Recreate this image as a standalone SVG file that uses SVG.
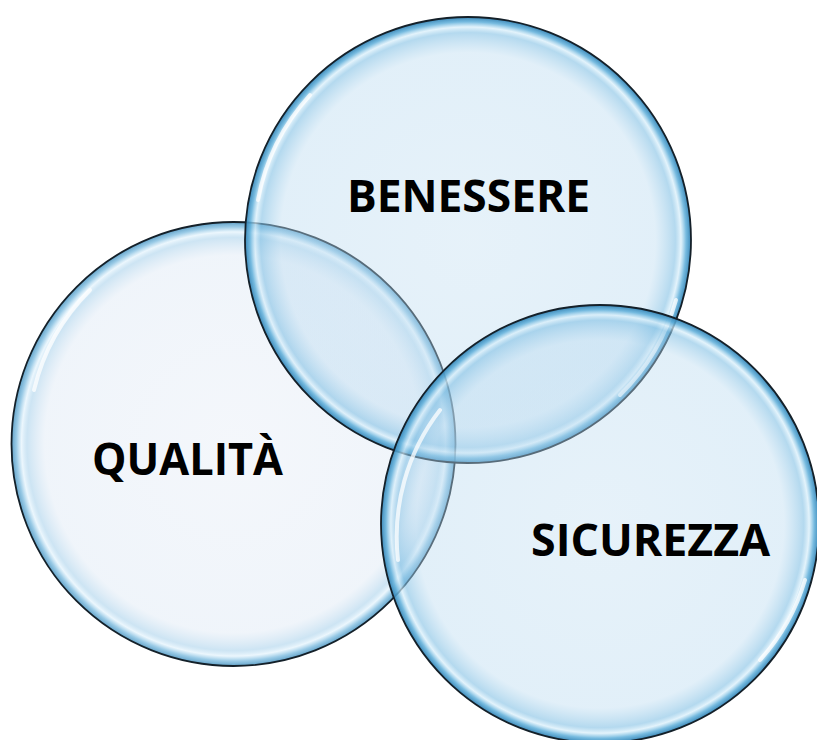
<svg xmlns="http://www.w3.org/2000/svg" width="817" height="740" viewBox="0 0 817 740">
  <style>
    .rim { stroke: #142029; stroke-width: 1.8; }
    .lbl { font-family: "Open Sans", "Liberation Sans", sans-serif; font-weight: 700; font-size: 44px; fill: #000; }
    .hl { fill: none; stroke: #ffffff; stroke-width: 4; stroke-linecap: round; opacity: 0.75; }
  </style>
  <defs>
    <radialGradient id="bubble" cx="0.5" cy="0.5" r="0.5">
      <stop offset="0" stop-color="rgb(190,220,240)" stop-opacity="0.38"/>
      <stop offset="0.84" stop-color="rgb(185,218,240)" stop-opacity="0.42"/>
      <stop offset="0.93" stop-color="rgb(130,192,228)" stop-opacity="0.6"/>
      <stop offset="0.955" stop-color="rgb(215,238,250)" stop-opacity="0.7"/>
      <stop offset="0.978" stop-color="rgb(95,175,218)" stop-opacity="0.85"/>
      <stop offset="1" stop-color="rgb(50,130,180)" stop-opacity="0.95"/>
    </radialGradient>
    <radialGradient id="bubbleLight" cx="0.5" cy="0.5" r="0.5">
      <stop offset="0" stop-color="rgb(205,218,238)" stop-opacity="0.22"/>
      <stop offset="0.85" stop-color="rgb(200,218,238)" stop-opacity="0.28"/>
      <stop offset="0.93" stop-color="rgb(155,202,232)" stop-opacity="0.5"/>
      <stop offset="0.955" stop-color="rgb(225,242,252)" stop-opacity="0.65"/>
      <stop offset="0.978" stop-color="rgb(120,185,222)" stop-opacity="0.75"/>
      <stop offset="1" stop-color="rgb(70,145,190)" stop-opacity="0.85"/>
    </radialGradient>
  </defs>
  <rect width="817" height="740" fill="#ffffff"/>
  <g id="qualita">
    <circle cx="233.5" cy="444" r="222" fill="url(#bubbleLight)" class="rim"/>
    <path class="hl" d="M 34 390 A 210 210 0 0 1 90 290" opacity="0.5"/>
    <text class="lbl" x="92" y="475" textLength="191" lengthAdjust="spacingAndGlyphs">QUALITÀ</text>
  </g>
  <g id="benessere">
    <circle cx="468" cy="240" r="223" fill="url(#bubble)" class="rim"/>
    <path class="hl" d="M 258 200 A 212 212 0 0 1 310 95" opacity="0.5"/>
    <path class="hl" d="M 676 300 A 212 212 0 0 1 620 395" opacity="0.6"/>
    <text class="lbl" x="347" y="212" textLength="243" lengthAdjust="spacingAndGlyphs">BENESSERE</text>
  </g>
  <g id="sicurezza">
    <circle cx="600" cy="524" r="219" fill="url(#bubble)" class="rim"/>
    <path class="hl" d="M 398 560 A 207 207 0 0 1 440 410" opacity="0.5"/>
    <path class="hl" d="M 805 580 A 207 207 0 0 1 760 660" opacity="0.6"/>
    <text class="lbl" x="531" y="556" textLength="239" lengthAdjust="spacingAndGlyphs">SICUREZZA</text>
  </g>
  <g id="connectors"/>
</svg>
